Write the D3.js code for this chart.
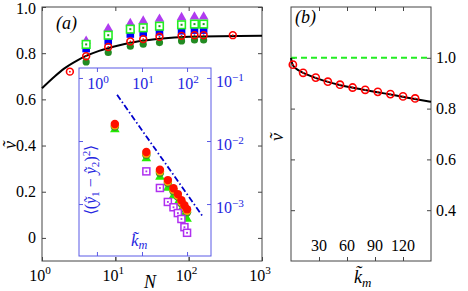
<!DOCTYPE html>
<html>
<head>
<meta charset="utf-8">
<script src="https://cdn.jsdelivr.net/npm/d3@7"></script>
<style>
body { margin: 0; background: #fff; }
</style>
</head>
<body>
<svg id="chart" width="468" height="291" font-family="Liberation Serif"></svg>
<script>
// ---- panel (a): v vs N ----
const redN = [2.4, 4, 8, 16, 24, 40, 80, 120, 160, 400];
const redV = [0.72, 0.787, 0.827, 0.851, 0.861, 0.871, 0.875, 0.878, 0.878, 0.878];
const groupN = [4, 8, 16, 24, 40, 80, 120, 160];
const greenV = [0.762, 0.803, 0.83, 0.839, 0.846, 0.853, 0.857, 0.857];
const blueV = [0.82, 0.853, 0.883, 0.888, 0.893, 0.897, 0.9, 0.9];
const limeV = [0.838, 0.878, 0.904, 0.91, 0.917, 0.923, 0.926, 0.926];
const purpleV = [0.853, 0.907, 0.929, 0.94, 0.948, 0.955, 0.958, 0.958];
const fitN = [1, 1.5, 2, 3, 4, 6, 10, 20, 40, 100, 1000];
const fitV = [0.648, 0.7, 0.733, 0.768, 0.788, 0.81, 0.83, 0.851, 0.863, 0.871, 0.875];
const aTicksY = [0, 0.2, 0.4, 0.6, 0.8, 1.0];
const aTickLabelsY = ["0", "0.2", "0.4", "0.6", "0.8", "1.0"];
const aTicksX = [1, 10, 100, 1000];
const aTickExpX = ["0", "1", "2", "3"];

// ---- inset: <(y1-y2)^2> vs k_m ----
const kmInset = [2.5, 12.5, 25, 37.5, 50, 62.5, 75, 87.5, 100];
const insetRed = [0.0186, 0.0067, 0.0035, 0.0024, 0.00178, 0.00144, 0.00115, 0.00096, 0.00083];
const insetOrange = [0.0177, 0.0063, 0.0033, 0.00227, 0.00168, 0.00136, 0.00108, 0.0009, 0.00078];
const insetGreen = [0.0168, 0.006, 0.0031, 0.00215, 0.0016, 0.0013, 0.00103, 0.00086, 0.00074];
const insetLime = [0.0152, 0.0053, 0.0027, 0.0018, 0.00135, 0.00105, 0.00082, 0.00068, 0.00058];
const kmPurple = [12.5, 25, 37.5, 50, 62.5, 75, 87.5, 100];
const insetPurple = [0.0033, 0.0018, 0.00108, 0.00089, 0.00072, 0.00058, 0.00043, 0.00035];
const guideK = [2.8, 215];
const guideY = [0.054, 0.00066];
const iTicksX = [1, 10, 100];
const iTickExpX = ["0", "1", "2"];
const iTicksY = [0.1, 0.01, 0.001];
const iTickExpY = ["\u22121", "\u22122", "\u22123"];

// ---- panel (b): v vs k_m ----
const kmB = [2, 13, 26.5, 39.5, 52.5, 66, 79.5, 93, 106.5, 120, 133];
const vB = [0.973, 0.941, 0.922, 0.906, 0.894, 0.883, 0.874, 0.866, 0.857, 0.848, 0.84];
const fitK = [0, 1, 3, 6, 10, 20, 35, 50, 75, 100, 125, 150];
const fitKV = [1.0, 0.981, 0.966, 0.956, 0.947, 0.93, 0.91, 0.895, 0.876, 0.86, 0.843, 0.827];
const bTicksX = [30, 60, 90, 120];
const bTicksY = [0.4, 0.6, 0.8, 1.0];
const bTickLabelsY = ["0.4", "0.6", "0.8", "1.0"];

const svg = d3.select("#chart");
const frameCol = "#444";

function pow10(sel, exp, dy) {
  sel.append("tspan").text("10");
  sel.append("tspan").attr("dy", dy).attr("font-size", "0.7em").text(exp);
}

function ticks(g, axis, x, y, col) {
  const a = g.append("g").attr("transform", `translate(${x},${y})`).call(axis);
  a.select(".domain").remove();
  a.selectAll("line").attr("stroke", col);
  a.selectAll("text").remove();
  a.attr("font-family", null);
}

function kLabel(parent, x, y, size, col) {
  const t = parent.append("text").attr("x", x).attr("y", y).attr("font-size", size)
    .attr("fill", col).attr("font-style", "italic");
  t.append("tspan").text("k\u0303");
  t.append("tspan").attr("dy", size * 0.2).attr("font-size", size * 0.72).text("m");
  return t;
}

// ===== panel (a) =====
const xa = d3.scaleLog().domain([1, 1000]).range([42, 262]);
const ya = d3.scaleLinear().domain([-0.1, 1.0]).range([261, 7]);
const ga = svg.append("g");

ticks(ga, d3.axisBottom(xa).tickValues(aTicksX).tickSize(-4), 0, 261, frameCol);
ticks(ga, d3.axisTop(xa).tickValues(aTicksX).tickSize(-4), 0, 7, frameCol);
ticks(ga, d3.axisLeft(ya).tickValues(aTicksY).tickSize(-4), 42, 0, frameCol);
ticks(ga, d3.axisRight(ya).tickValues(aTicksY).tickSize(-4), 262, 0, frameCol);
ga.append("rect").attr("x", 42).attr("y", 7).attr("width", 220).attr("height", 254)
  .attr("fill", "none").attr("stroke", frameCol);

ga.selectAll(".ylab").data(aTicksY).join("text")
  .attr("x", 36).attr("y", d => Math.max(ya(d) + 5.5, 14))
  .attr("text-anchor", "end").attr("font-size", 16)
  .text((d, i) => aTickLabelsY[i]);
ga.selectAll(".xlab").data(aTicksX).join("text")
  .attr("x", d => xa(d) - 2).attr("y", 281)
  .attr("text-anchor", "middle").attr("font-size", 16)
  .each(function (d, i) { pow10(d3.select(this), aTickExpX[i], -7); });

ga.append("text").attr("x", 150).attr("y", 288).attr("text-anchor", "middle")
  .attr("font-size", 18).attr("font-style", "italic").text("N");
ga.append("text").attr("transform", "translate(16,145) rotate(-90)")
  .attr("text-anchor", "middle").attr("font-size", 18).attr("font-style", "italic").text("\u1E7D");
ga.append("text").attr("x", 56).attr("y", 29).attr("font-size", 18)
  .attr("font-style", "italic").text("(a)");

ga.append("path").datum(fitN.map((n, i) => [n, fitV[i]]))
  .attr("fill", "none").attr("stroke", "#000").attr("stroke-width", 2)
  .attr("d", d3.line().x(d => xa(d[0])).y(d => ya(d[1])).curve(d3.curveMonotoneX));

// green filled circles
ga.selectAll(".gc").data(groupN).join("circle")
  .attr("cx", d => xa(d)).attr("cy", (d, i) => ya(greenV[i])).attr("r", 3.6)
  .attr("fill", "#228b22");
// blue squares
ga.selectAll(".bs").data(groupN).join("rect")
  .attr("x", d => xa(d) - 3.8).attr("y", (d, i) => ya(blueV[i]) - 3.8)
  .attr("width", 7.6).attr("height", 7.6).attr("fill", "#0000ff");
// purple triangles
ga.selectAll(".pt").data(groupN).join("path")
  .attr("transform", (d, i) => `translate(${xa(d)},${ya(purpleV[i])})`)
  .attr("d", d3.symbol(d3.symbolTriangle, 40)).attr("fill", "#b03cf0");
// lime open squares with dot
ga.selectAll(".ls").data(groupN).join("rect")
  .attr("x", d => xa(d) - 3.8).attr("y", (d, i) => ya(limeV[i]) - 3.8)
  .attr("width", 7.6).attr("height", 7.6).attr("fill", "#fff")
  .attr("stroke", "#22ee22").attr("stroke-width", 1.6);
ga.selectAll(".ld").data(groupN).join("rect")
  .attr("x", d => xa(d) - 1).attr("y", (d, i) => ya(limeV[i]) - 1)
  .attr("width", 2).attr("height", 2).attr("fill", "#229922");
// red open circles with dot
ga.selectAll(".rc").data(redN).join("circle")
  .attr("cx", d => xa(d)).attr("cy", (d, i) => ya(redV[i])).attr("r", 3.4)
  .attr("fill", "none").attr("stroke", "#ff0000").attr("stroke-width", 1.6);
ga.selectAll(".rd").data(redN).join("circle")
  .attr("cx", d => xa(d)).attr("cy", (d, i) => ya(redV[i])).attr("r", 0.9)
  .attr("fill", "#ff0000");

// ===== inset =====
const inCol = "#5a5ae6";
const inText = "#2525e0";
const xi = d3.scaleLog().domain([0.4, 340]).range([79, 211]);
const yi = d3.scaleLog().domain([1.5e-4, 0.144]).range([256, 68]);
const gi = svg.append("g");
gi.append("rect").attr("x", 79).attr("y", 68).attr("width", 132).attr("height", 188)
  .attr("fill", "#fff");
ticks(gi, d3.axisBottom(xi).tickValues(iTicksX).tickSize(-4), 0, 256, inCol);
ticks(gi, d3.axisTop(xi).tickValues(iTicksX).tickSize(-4), 0, 68, inCol);
ticks(gi, d3.axisLeft(yi).tickValues(iTicksY).tickSize(-4), 79, 0, inCol);
ticks(gi, d3.axisRight(yi).tickValues(iTicksY).tickSize(-4), 211, 0, inCol);
gi.append("rect").attr("x", 79).attr("y", 68).attr("width", 132).attr("height", 188)
  .attr("fill", "none").attr("stroke", inCol);
// main panel bottom ticks show below inset edge
ticks(gi, d3.axisBottom(xa).tickValues(aTicksX).tickSize(-4), 0, 261, frameCol);

gi.selectAll(".ixl").data(iTicksX).join("text")
  .attr("x", d => xi(d) + 1).attr("y", 89).attr("text-anchor", "middle")
  .attr("font-size", 16).attr("fill", inText)
  .each(function (d, i) { pow10(d3.select(this), iTickExpX[i], -6); });
gi.selectAll(".iyl").data(iTicksY).join("text")
  .attr("x", 216).attr("y", d => yi(d) + 9)
  .attr("font-size", 16).attr("fill", inText)
  .each(function (d, i) { pow10(d3.select(this), iTickExpY[i], -6); });

kLabel(gi, 131, 246, 17, inText);

const ylt = gi.append("text").attr("transform", "translate(96,180) rotate(-90)")
  .attr("text-anchor", "middle").attr("font-size", 16).attr("fill", inText);
ylt.append("tspan").text("\u27E8(");
ylt.append("tspan").attr("font-style", "italic").text("\u1EF9");
ylt.append("tspan").attr("dy", 3).attr("font-size", "0.7em").text("1");
ylt.append("tspan").attr("dy", -3).text(" \u2212 ");
ylt.append("tspan").attr("font-style", "italic").text("\u1EF9");
ylt.append("tspan").attr("dy", 3).attr("font-size", "0.7em").text("2");
ylt.append("tspan").attr("dy", -3).text(")");
ylt.append("tspan").attr("dy", -6).attr("font-size", "0.7em").text("2");
ylt.append("tspan").attr("dy", 6).text("\u27E9");

gi.append("path").datum(guideK.map((k, i) => [k, guideY[i]]))
  .attr("fill", "none").attr("stroke", "#0000cc").attr("stroke-width", 1.8)
  .attr("stroke-dasharray", "6,2.5,1.5,2.5")
  .attr("d", d3.line().x(d => xi(d[0])).y(d => yi(d[1])));

gi.selectAll(".ilt").data(kmInset).join("path")
  .attr("transform", (d, i) => `translate(${xi(d)},${yi(insetLime[i])})`)
  .attr("d", d3.symbol(d3.symbolTriangle, 40)).attr("fill", "#22ee00");
gi.selectAll(".igc").data(kmInset).join("circle")
  .attr("cx", d => xi(d)).attr("cy", (d, i) => yi(insetGreen[i])).attr("r", 4.2)
  .attr("fill", "#3a9a2a");
gi.selectAll(".ioc").data(kmInset).join("circle")
  .attr("cx", d => xi(d)).attr("cy", (d, i) => yi(insetOrange[i])).attr("r", 4.2)
  .attr("fill", "#ffa000");
gi.selectAll(".irc").data(kmInset).join("circle")
  .attr("cx", d => xi(d)).attr("cy", (d, i) => yi(insetRed[i])).attr("r", 4.2)
  .attr("fill", "#ff1000");
gi.selectAll(".ips").data(kmPurple).join("rect")
  .attr("x", d => xi(d) - 3.5).attr("y", (d, i) => yi(insetPurple[i]) - 3.5)
  .attr("width", 7).attr("height", 7).attr("fill", "#fff")
  .attr("stroke", "#b030f0").attr("stroke-width", 1.5);
gi.selectAll(".ipd").data(kmPurple).join("rect")
  .attr("x", d => xi(d) - 0.9).attr("y", (d, i) => yi(insetPurple[i]) - 0.9)
  .attr("width", 1.8).attr("height", 1.8).attr("fill", "#b030f0");

// ===== panel (b) =====
const xb = d3.scaleLinear().domain([0, 150]).range([291, 431]);
const yb = d3.scaleLinear().domain([0.2, 1.2]).range([261, 7]);
const gb = svg.append("g");
ticks(gb, d3.axisBottom(xb).tickValues(bTicksX).tickSize(-4), 0, 261, frameCol);
ticks(gb, d3.axisTop(xb).tickValues(bTicksX).tickSize(-4), 0, 7, frameCol);
ticks(gb, d3.axisLeft(yb).tickValues(bTicksY).tickSize(-4), 291, 0, frameCol);
ticks(gb, d3.axisRight(yb).tickValues(bTicksY).tickSize(-4), 431, 0, frameCol);
gb.append("rect").attr("x", 291).attr("y", 7).attr("width", 140).attr("height", 254)
  .attr("fill", "none").attr("stroke", frameCol);

gb.selectAll(".byl").data(bTicksY).join("text")
  .attr("x", 436).attr("y", d => yb(d) + 5.5).attr("font-size", 16)
  .text((d, i) => bTickLabelsY[i]);
gb.selectAll(".bxl").data(bTicksX).join("text")
  .attr("x", d => xb(d)).attr("y", 251).attr("text-anchor", "middle")
  .attr("font-size", 16).text(d => d);

kLabel(gb, 354, 283, 18, "#000");
gb.append("text").attr("transform", "translate(283,137) rotate(-90)")
  .attr("text-anchor", "middle").attr("font-size", 18).attr("font-style", "italic").text("\u1E7D");
gb.append("text").attr("x", 295).attr("y", 23).attr("font-size", 18)
  .attr("font-style", "italic").text("(b)");

gb.append("line").attr("x1", xb(0)).attr("x2", xb(150)).attr("y1", yb(1)).attr("y2", yb(1))
  .attr("stroke", "#22ee22").attr("stroke-width", 2).attr("stroke-dasharray", "6,4");
gb.append("path").datum(fitK.map((k, i) => [k, fitKV[i]]))
  .attr("fill", "none").attr("stroke", "#000").attr("stroke-width", 2)
  .attr("d", d3.line().x(d => xb(d[0])).y(d => yb(d[1])).curve(d3.curveMonotoneX));
gb.selectAll(".brc").data(kmB).join("circle")
  .attr("cx", d => xb(d)).attr("cy", (d, i) => yb(vB[i])).attr("r", 3.6)
  .attr("fill", "none").attr("stroke", "#ff0000").attr("stroke-width", 1.6);
gb.selectAll(".brd").data(kmB).join("circle")
  .attr("cx", d => xb(d)).attr("cy", (d, i) => yb(vB[i])).attr("r", 0.9)
  .attr("fill", "#ff0000");
</script>
</body>
</html>
